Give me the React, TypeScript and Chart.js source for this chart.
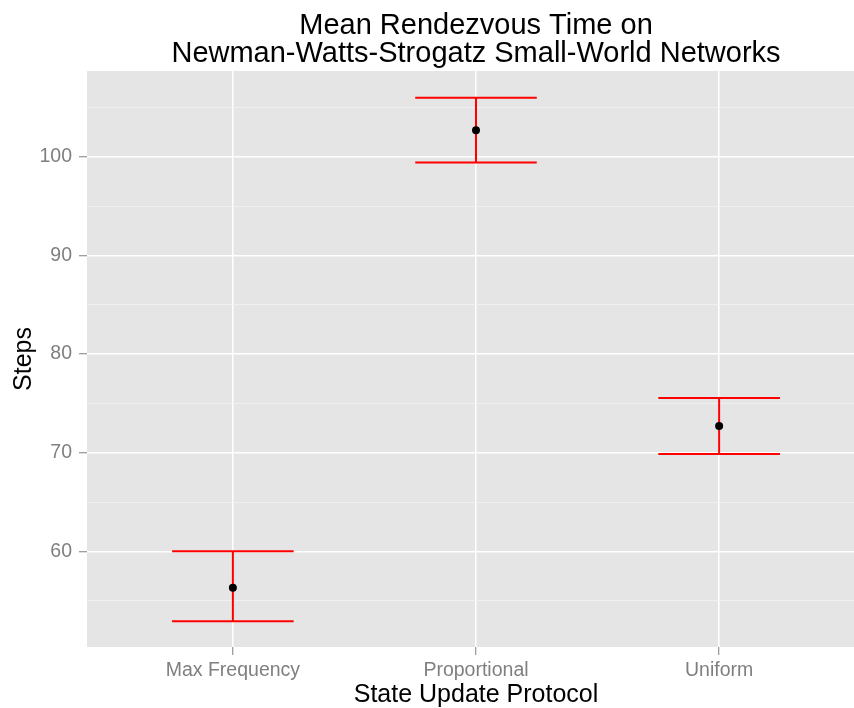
import React, { useEffect, useRef } from "react";
import { Chart, registerables } from "chart.js";

Chart.register(...registerables);

const categories = ["Max Frequency", "Proportional", "Uniform"];
const categoryPositions = [1, 2, 3];
const means = [56.3, 102.7, 72.7];
const upper = [60.0, 106.0, 75.55];
const lower = [52.9, 99.43, 69.87];
const yMajorTicks = [60, 70, 80, 90, 100];
const yMinorTicks = [55, 65, 75, 85, 95, 105];

const FONT = "'Liberation Sans', Arial, sans-serif";

const panelBg = {
  id: "panelBg",
  beforeDraw(chart: any) {
    const { ctx, chartArea } = chart;
    ctx.save();
    ctx.fillStyle = "#E5E5E5";
    ctx.fillRect(chartArea.left, chartArea.top, chartArea.right - chartArea.left, chartArea.bottom - chartArea.top);
    ctx.restore();
  },
};

export default function App() {
  const ref = useRef<HTMLCanvasElement>(null);

  useEffect(() => {
    document.body.style.margin = "0";
    const halfWidth = 0.25;
    const errorSets = categoryPositions.map((c, i) => ({
      type: "scatter" as const,
      data: [
        { x: c - halfWidth, y: upper[i] },
        { x: c + halfWidth, y: upper[i] },
        { x: c, y: null },
        { x: c, y: upper[i] },
        { x: c, y: lower[i] },
        { x: c, y: null },
        { x: c - halfWidth, y: lower[i] },
        { x: c + halfWidth, y: lower[i] },
      ],
      showLine: true,
      spanGaps: false,
      borderColor: "#FF0000",
      borderWidth: 2,
      pointRadius: 0,
      pointHoverRadius: 0,
    }));
    const meanSet = {
      type: "scatter" as const,
      data: categoryPositions.map((c, i) => ({ x: c, y: means[i] })),
      backgroundColor: "#000000",
      borderColor: "#000000",
      pointRadius: 4,
      borderWidth: 0,
    };
    const yAll = [...yMajorTicks, ...yMinorTicks].sort((a, b) => a - b);
    const chart = new Chart(ref.current!, {
      type: "scatter",
      data: { datasets: [meanSet, ...errorSets] as any },
      plugins: [panelBg],
      options: {
        animation: false,
        responsive: false,
        maintainAspectRatio: false,
        layout: { padding: 0 },
        plugins: {
          legend: { display: false },
          tooltip: { enabled: false },
          title: {
            display: true,
            fullSize: false,
            text: ["Mean Rendezvous Time on", "Newman-Watts-Strogatz Small-World Networks"],
            color: "#000000",
            font: { family: FONT, size: 29, weight: "normal", lineHeight: 28 / 29 },
            padding: { top: 12, bottom: 3 },
          },
        },
        scales: {
          x: {
            type: "linear",
            min: 0.4,
            max: 3.6,
            afterBuildTicks: (axis: any) => {
              axis.ticks = categoryPositions.map((v) => ({ value: v }));
            },
            afterFit: (axis: any) => {
              axis.height = 61;
              axis.paddingLeft = 0;
              axis.paddingRight = 0;
            },
            ticks: {
              autoSkip: false,
              maxRotation: 0,
              color: "#7F7F7F",
              font: { family: FONT, size: 19.5 },
              padding: 3.6,
              callback: (v: any) => {
                const idx = categoryPositions.indexOf(Number(v));
                return idx >= 0 ? categories[idx] : "";
              },
            },
            grid: {
              color: "#FFFFFF",
              lineWidth: 1.5,
              tickColor: "#7F7F7F",
              tickLength: 8,
              tickWidth: 1,
            },
            border: { display: false },
            title: {
              display: true,
              text: "State Update Protocol",
              color: "#000000",
              font: { family: FONT, size: 25, lineHeight: 1 },
              padding: { top: 0, bottom: 0 },
            },
          },
          y: {
            type: "linear",
            min: 50.3,
            max: 108.7,
            afterBuildTicks: (axis: any) => {
              axis.ticks = yAll.map((v) => ({ value: v }));
            },
            afterFit: (axis: any) => {
              axis.width = 87;
              axis.paddingTop = 0;
              axis.paddingBottom = 0;
            },
            ticks: {
              autoSkip: false,
              color: "#7F7F7F",
              font: { family: FONT, size: 19.5 },
              padding: 7,
              callback: (v: any) => (yMajorTicks.includes(Number(v)) ? String(v) : ""),
            },
            grid: {
              color: (ctx: any) => (yMajorTicks.includes(ctx.tick?.value) ? "#FFFFFF" : "#F2F2F2"),
              lineWidth: (ctx: any) => (yMajorTicks.includes(ctx.tick?.value) ? 1.5 : 0.8),
              tickColor: (ctx: any) => (yMajorTicks.includes(ctx.tick?.value) ? "#7F7F7F" : "rgba(0,0,0,0)"),
              tickLength: 8,
              tickWidth: 1,
            },
            border: { display: false },
            title: {
              display: true,
              text: "Steps",
              color: "#000000",
              font: { family: FONT, size: 25, lineHeight: 1 },
              padding: { top: 11.5, bottom: 0 },
            },
          },
        },
      } as any,
    });
    return () => chart.destroy();
  }, []);

  return (
    <div style={{ width: 854, height: 708, overflow: "hidden" }}>
      <canvas ref={ref} width={869} height={708} style={{ display: "block" }} />
    </div>
  );
}
